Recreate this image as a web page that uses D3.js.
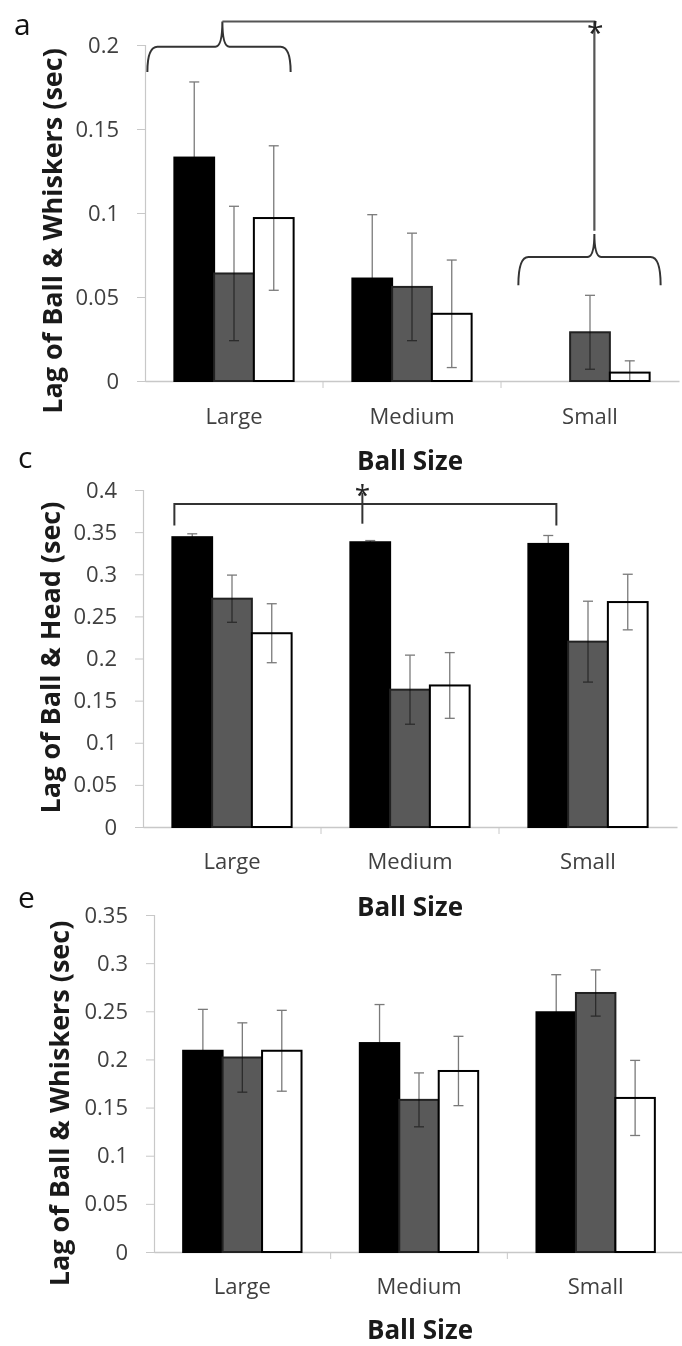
<!DOCTYPE html>
<html>
<head>
<meta charset="utf-8">
<script src="https://cdn.jsdelivr.net/npm/d3@7/dist/d3.min.js"></script>
<style>
  html, body { margin: 0; padding: 0; background: #fff; }
  svg { display: block; }
  text { font-family: "Open Sans", Lato, sans-serif; }
</style>
</head>
<body>
<script>
// ---------- DATA ----------
const categories = ["Large", "Medium", "Small"];
const seriesNames = ["black", "gray", "white"];

// Panel a: Lag of Ball & Whiskers (sec)
const aBlack = [0.133, 0.061, 0];
const aBlackErr = [0.045, 0.038, 0];
const aGray = [0.064, 0.056, 0.029];
const aGrayErr = [0.040, 0.032, 0.022];
const aWhite = [0.097, 0.040, 0.005];
const aWhiteErr = [0.043, 0.032, 0.007];
const aTicks = [0, 0.05, 0.1, 0.15, 0.2];
const aTickLabels = ["0", "0.05", "0.1", "0.15", "0.2"];

// Panel c: Lag of Ball & Head (sec)
const cBlack = [0.344, 0.338, 0.336];
const cBlackErr = [0.004, 0.002, 0.010];
const cGray = [0.271, 0.163, 0.220];
const cGrayErr = [0.028, 0.041, 0.048];
const cWhite = [0.230, 0.168, 0.267];
const cWhiteErr = [0.035, 0.039, 0.033];
const cTicks = [0, 0.05, 0.1, 0.15, 0.2, 0.25, 0.3, 0.35, 0.4];
const cTickLabels = ["0", "0.05", "0.1", "0.15", "0.2", "0.25", "0.3", "0.35", "0.4"];

// Panel e: Lag of Ball & Whiskers (sec)
const eBlack = [0.209, 0.217, 0.249];
const eBlackErr = [0.043, 0.040, 0.039];
const eGray = [0.202, 0.158, 0.269];
const eGrayErr = [0.036, 0.028, 0.024];
const eWhite = [0.209, 0.188, 0.160];
const eWhiteErr = [0.042, 0.036, 0.039];
const eTicks = [0, 0.05, 0.1, 0.15, 0.2, 0.25, 0.3, 0.35];
const eTickLabels = ["0", "0.05", "0.1", "0.15", "0.2", "0.25", "0.3", "0.35"];

const xTitle = "Ball Size";

// ---------- RENDER ----------
const W = 682, H = 1346;
const svg = d3.select("body").append("svg").attr("width", W).attr("height", H);

const fills = { black: "#000000", gray: "#595959", white: "#ffffff" };
const strokes = { black: "#000000", gray: "#222222", white: "#000000" };
const FONT = '"Open Sans", Lato, sans-serif';

function drawPanel(cfg) {
  const g = svg.append("g");
  const y = d3.scaleLinear().domain([0, cfg.max]).range([cfg.y0, cfg.y1]);
  const x = d3.scaleBand().domain(categories).range([cfg.xL, cfg.xR])
    .paddingInner(0.33).paddingOuter(0.165);
  const xs = d3.scaleBand().domain(seriesNames).range([0, x.bandwidth()]);

  // y axis
  const yAxis = d3.axisLeft(y).tickValues(cfg.ticks)
    .tickFormat((d, i) => cfg.tickLabels[i]).tickSize(8).tickPadding(18);
  const ya = g.append("g").attr("transform", `translate(${cfg.xL},0)`).call(yAxis);
  ya.select(".domain").attr("stroke", "#c8c8c8").attr("stroke-width", 1.2);
  ya.selectAll(".tick line").attr("stroke", "#c8c8c8");
  ya.selectAll(".tick text").attr("fill", "#404040")
    .style("font-size", "22px").style("font-family", FONT);

  // x axis
  const xAxis = d3.axisBottom(x).tickSize(0).tickPadding(0).tickFormat("");
  const xa = g.append("g").attr("transform", `translate(0,${cfg.y0})`).call(xAxis);
  xa.select(".domain").attr("stroke", "#c8c8c8").attr("stroke-width", 1.5);
  xa.selectAll(".tick").remove();
  const bounds = categories.slice(1).map(c => x(c) - x.step() * x.paddingInner() / 2);
  g.selectAll(".btick").data(bounds).enter().append("line")
    .attr("x1", d => d).attr("x2", d => d)
    .attr("y1", cfg.y0).attr("y2", cfg.y0 + 7)
    .attr("stroke", "#c8c8c8");

  // category labels
  g.selectAll(".cat").data(categories).enter().append("text")
    .attr("x", d => x(d) + x.bandwidth() / 2)
    .attr("y", cfg.catY)
    .attr("text-anchor", "middle")
    .attr("fill", "#404040")
    .style("font-size", "22px")
    .text(d => d);

  // bars
  const series = [
    { name: "black", vals: cfg.black, errs: cfg.blackErr },
    { name: "gray", vals: cfg.gray, errs: cfg.grayErr },
    { name: "white", vals: cfg.white, errs: cfg.whiteErr }
  ];
  series.forEach(s => {
    const data = categories.map((c, i) => ({ c, v: s.vals[i], e: s.errs[i] }));
    g.selectAll(".bar-" + s.name).data(data.filter(d => d.v > 0)).enter().append("rect")
      .attr("x", d => x(d.c) + xs(s.name))
      .attr("y", d => y(d.v))
      .attr("width", xs.bandwidth())
      .attr("height", d => y(0) - y(d.v))
      .attr("fill", fills[s.name])
      .attr("stroke", strokes[s.name])
      .attr("stroke-width", 2);
  });
  // error bars
  series.forEach(s => {
    const data = categories.map((c, i) => ({ c, v: s.vals[i], e: s.errs[i] }))
      .filter(d => d.v > 0 && d.e > 0);
    const eg = g.append("g").style("mix-blend-mode", "multiply");
    data.forEach(d => {
      const cx = x(d.c) + xs(s.name) + xs.bandwidth() / 2;
      const yt = y(d.v + d.e), yb = y(Math.max(0, d.v - d.e));
      eg.append("line").attr("x1", cx).attr("x2", cx).attr("y1", yt).attr("y2", yb)
        .attr("stroke", "#7a7a7a").attr("stroke-width", 1.3);
      [yt, yb].forEach(yy => eg.append("line")
        .attr("x1", cx - 5).attr("x2", cx + 5).attr("y1", yy).attr("y2", yy)
        .attr("stroke", "#7a7a7a").attr("stroke-width", 1.3));
    });
  });

  // y title
  g.append("text")
    .attr("transform", `translate(${cfg.titleX},${(cfg.y0 + cfg.y1) / 2 + cfg.titleDy}) rotate(-90)`)
    .attr("text-anchor", "middle")
    .attr("dominant-baseline", "central")
    .attr("fill", "#1a1a1a")
    .style("font-size", "27px").style("font-weight", "bold")
    .text(cfg.yTitle);

  // x title
  g.append("text")
    .attr("x", (cfg.xL + cfg.xR) / 2 + cfg.xTitleDx)
    .attr("y", cfg.xTitleY)
    .attr("text-anchor", "middle")
    .attr("fill", "#1a1a1a")
    .style("font-size", "26px").style("font-weight", "bold")
    .text(xTitle);

  // panel letter
  g.append("text")
    .attr("x", cfg.letterX).attr("y", cfg.letterY)
    .attr("fill", "#111")
    .style("font-size", "30px")
    .text(cfg.letter);

  return { g, x, xs, y };
}

function bracePath(x0, x1, xt, yTop, yEnd, yTip) {
  return `M${x0},${yEnd} Q${x0},${yTop} ${x0 + 10},${yTop} L${xt - 7},${yTop} Q${xt},${yTop} ${xt},${yTip}` +
         ` M${x1},${yEnd} Q${x1},${yTop} ${x1 - 10},${yTop} L${xt + 7},${yTop} Q${xt},${yTop} ${xt},${yTip}`;
}

// ----- Panel a -----
const pa = drawPanel({
  letter: "a", letterX: 14, letterY: 35,
  max: 0.2, y0: 381, y1: 45, xL: 145, xR: 679,
  ticks: aTicks, tickLabels: aTickLabels,
  black: aBlack, blackErr: aBlackErr, gray: aGray, grayErr: aGrayErr, white: aWhite, whiteErr: aWhiteErr,
  catY: 424, xTitleY: 470, xTitleDx: -2,
  yTitle: "Lag of Ball & Whiskers (sec)", titleX: 51, titleDy: 18
});
{
  const { g, x, y } = pa;
  const lx0 = x("Large") - 27, lx1 = x("Large") + x.bandwidth() - 3;
  const ltip = x("Large") + 48;
  g.append("path").attr("d", bracePath(lx0, lx1, ltip, y(0.199), y(0.184), y(0.214)))
    .attr("fill", "none").attr("stroke", "#333").attr("stroke-width", 2);
  const sx0 = x("Small") - 12, sx1 = x("Small") + x.bandwidth() + 11;
  const stip = x("Small") + 64;
  g.append("path").attr("d", bracePath(sx0, sx1, stip, y(0.0738), y(0.057), y(0.0875)))
    .attr("fill", "none").attr("stroke", "#333").attr("stroke-width", 2);
  g.append("path")
    .attr("d", `M${ltip},${y(0.214)} L${stip},${y(0.214)} L${stip},${y(0.0895)}`)
    .attr("fill", "none").attr("stroke", "#555").attr("stroke-width", 2.2);
  g.append("text").attr("x", stip + 1).attr("y", y(0.214) + 22)
    .attr("text-anchor", "middle").attr("fill", "#222")
    .style("font-size", "30px").text("*");
}

// ----- Panel c -----
const pc = drawPanel({
  letter: "c", letterX: 18, letterY: 468,
  max: 0.4, y0: 827, y1: 490, xL: 143, xR: 677,
  ticks: cTicks, tickLabels: cTickLabels,
  black: cBlack, blackErr: cBlackErr, gray: cGray, grayErr: cGrayErr, white: cWhite, whiteErr: cWhiteErr,
  catY: 869, xTitleY: 916, xTitleDx: 0,
  yTitle: "Lag of Ball & Head (sec)", titleX: 49, titleDy: -1
});
{
  const { g, x, y } = pc;
  const bx0 = x("Large") + 2, bx1 = x("Small") + 28, bm = x("Medium") + 12;
  g.append("path")
    .attr("d", `M${bx0},${y(0.358)} L${bx0},${y(0.3834)} L${bx1},${y(0.3834)} L${bx1},${y(0.358)}`)
    .attr("fill", "none").attr("stroke", "#333").attr("stroke-width", 2);
  g.append("line").attr("x1", bm).attr("x2", bm).attr("y1", y(0.397)).attr("y2", y(0.360))
    .attr("stroke", "#333").attr("stroke-width", 2);
  g.append("text").attr("x", bm).attr("y", y(0.396) + 12)
    .attr("text-anchor", "middle").attr("fill", "#222")
    .style("font-size", "28px").text("*");
}

// ----- Panel e -----
drawPanel({
  letter: "e", letterX: 18, letterY: 908,
  max: 0.35, y0: 1252, y1: 915, xL: 154, xR: 684,
  ticks: eTicks, tickLabels: eTickLabels,
  black: eBlack, blackErr: eBlackErr, gray: eGray, grayErr: eGrayErr, white: eWhite, whiteErr: eWhiteErr,
  catY: 1294, xTitleY: 1339, xTitleDx: 1,
  yTitle: "Lag of Ball & Whiskers (sec)", titleX: 58, titleDy: 20
});
</script>
</body>
</html>
